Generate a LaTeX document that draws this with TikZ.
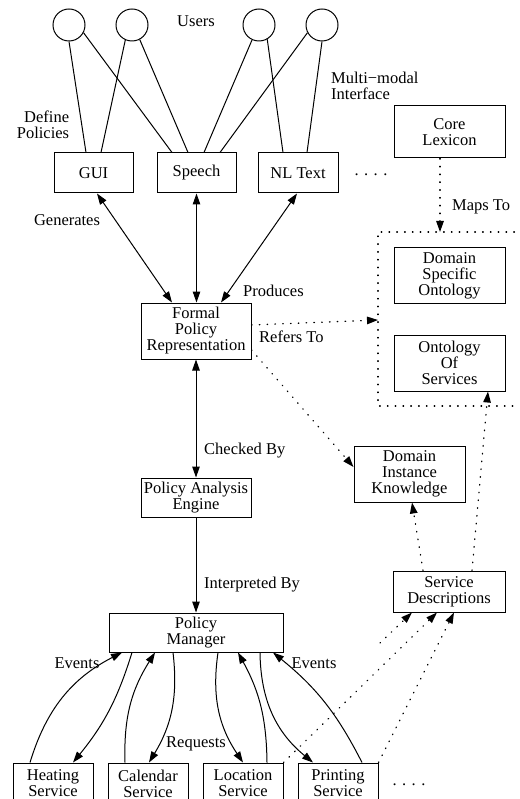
\documentclass[tikz,border=0pt]{standalone}
\usepackage{fontspec}
\setmainfont{Liberation Serif}
\usetikzlibrary{arrows.meta,calc}
\begin{document}
\begin{tikzpicture}[x=1pt,y=-1pt,
  >={Triangle[length=11pt,width=7.5pt]},
  every node/.style={font=\fontsize{16.5}{16}\selectfont},
  box/.style={draw,line width=1pt,align=center,inner sep=0pt},
  lbl/.style={inner sep=0pt},
  user/.style={draw,circle,line width=1pt,minimum size=32pt,inner sep=0pt},
  conn/.style={line width=1pt},
  dots/.style={line width=1.3pt,line cap=round,dash pattern=on 0.6pt off 7.2pt}]
\useasboundingbox (0,0) rectangle (519,799);
\clip (0,0) rectangle (519,799);
% users
\node[user] (u1) at (69,25) {};
\node[user] (u2) at (132,25) {};
\node[user] (u3) at (259,25) {};
\node[user] (u4) at (322,25) {};
\node[lbl,anchor=base] (lusers) at (196,26.5) {Users};
% interface boxes
\node[box,minimum width=79pt,minimum height=40pt] (gui) at (93.5,173) {GUI};
\node[box,minimum width=79pt,minimum height=40pt] (sp) at (196.5,173) {Speech};
\node[box,minimum width=80pt,minimum height=40pt] (nl) at (298,173) {NL Text};
\node[lbl] (dots1) at (371,175) {. . . .};
\node[box,minimum width=111pt,minimum height=52pt] (core) at (449.5,132) {Core\\Lexicon};
\node[box,minimum width=110pt,minimum height=56pt] (fp) at (196,331) {Formal\\Policy\\Representation};
\node[box,minimum width=111pt,minimum height=55pt] (dso) at (449.5,275.5) {Domain\\Specific\\Ontology};
\node[box,minimum width=111pt,minimum height=56pt] (oos) at (449.5,363) {Ontology\\Of\\Services};
\node[box,minimum width=111pt,minimum height=56pt] (dik) at (409.5,474) {Domain\\Instance\\Knowledge};
\node[box,minimum width=110pt,minimum height=39pt] (pae) at (196,497.5) {Policy Analysis\\Engine};
\node[box,minimum width=174pt,minimum height=39pt] (pm) at (196,632.5) {Policy\\Manager};
\node[box,minimum width=112pt,minimum height=41pt] (sd) at (449,591.5) {Service\\Descriptions};
\node[box,minimum width=80pt,minimum height=41pt] (heat) at (53,783.5) {Heating\\Service};
\node[box,minimum width=80pt,minimum height=41pt] (cal) at (148,783.5) {Calendar\\Service};
\node[box,minimum width=80pt,minimum height=41pt] (loc) at (243,783.5) {Location\\Service};
\node[box,minimum width=80pt,minimum height=41pt] (prn) at (338,783.5) {Printing\\Service};
\node[lbl] (dots2) at (409,785) {. . . .};
% labels
\node[lbl,align=right] (ldef) at (43,125) {Define\\Policies};
\node[lbl,align=left,anchor=west] (lmm) at (331,86) {Multi−modal\\Interface};
\node[lbl,anchor=base] (lgen) at (67,225.5) {Generates};
\node[lbl,anchor=base west] (lprod) at (243,296.5) {Produces};
\node[lbl,anchor=base west] (lmaps) at (452,210.5) {Maps To};
\node[lbl,anchor=base west] (lref) at (259,342.5) {Refers To};
\node[lbl,anchor=base west] (lchk) at (204,454.5) {Checked By};
\node[lbl,anchor=base west] (lint) at (204,588.5) {Interpreted By};
\node[lbl,anchor=base] (lev1) at (77,668.5) {Events};
\node[lbl,anchor=base] (lev2) at (314,668.5) {Events};
\node[lbl,anchor=base] (lreq) at (196,747.5) {Requests};
% user lines
\draw[conn] (u1.south) -- ($(gui.north)+(-7.5,0)$);
\draw[conn] (u1.-28) -- ($(sp.north)+(-24.5,0)$);
\draw[conn] (u2.-114) -- ($(gui.north)+(7.5,0)$);
\draw[conn] (u2.-62) -- ($(sp.north)+(-8.5,0)$);
\draw[conn] (u3.-115) -- ($(sp.north)+(7.5,0)$);
\draw[conn] (u3.-60) -- ($(nl.north)+(-15,0)$);
\draw[conn] (u4.-152) -- ($(sp.north)+(23.5,0)$);
\draw[conn] (u4.south) -- ($(nl.north)+(9,0)$);
% solid arrows
\draw[conn,<->] ($(gui.south)+(3.5,0)$) -- ($(fp.north)+(-24,0)$);
\draw[conn,<->] (sp.south) -- (sp.south |- fp.north);
\draw[conn,<->] ($(nl.south)+(-1,0)$) -- ($(fp.north)+(25,0)$);
\draw[conn,<->] (fp.south) -- (pae.north);
\draw[conn,->] (pae.south) -- (pm.north);
% dotted region
\coordinate (ra) at (530,232);
\coordinate (rb) at (378,232);
\coordinate (rc) at (378,406);
\coordinate (rd) at (530,406);
\draw[dots] (ra) -- (rb) -- (rc) -- (rd);
\coordinate (mt) at (440,232);
\coordinate (rt) at (378,320);
\coordinate (s0) at (380,643);
\draw[dots,->] ($(core.south)+(-9.5,0)$) -- (mt);
\draw[dots,->] ($(fp.east)+(0,-6)$) -- (rt);
\draw[dots,->] ($(fp.east)+(0,19)$) -- ($(dik.west)+(0,-7)$);
\draw[dots,->] ($(sd.north)+(-26,0)$) -- ($(dik.south)+(2.5,0)$);
\draw[dots,->] ($(sd.north)+(23,0)$) -- ($(oos.south)+(38.5,0)$);
\draw[dots,->] (loc.north east) -- ($(sd.south)+(-12,0)$);
\draw[dots,->] (prn.north east) -- ($(sd.south)+(5,0)$);
\draw[dots,->] (s0) -- ($(sd.south)+(-37,0)$);
% manager curves
\draw[conn,->] ($(heat.north)+(-23,0)$) to[bend left=23] ($(pm.south)+(-74,0)$);
\draw[conn,->] ($(pm.south)+(-64,0)$) to[bend left=11] ($(heat.north)+(20,0)$);
\draw[conn,->] ($(cal.north)+(-23,0)$) to[bend left=17] ($(pm.south)+(-41,0)$);
\draw[conn,->] ($(pm.south)+(-23,0)$) to[bend left=19] ($(cal.north)+(1,0)$);
\draw[conn,->] ($(pm.south)+(22,0)$) to[bend right=21] (loc.north);
\draw[conn,->] ($(loc.north)+(24,0)$) to[bend right=14] ($(pm.south)+(42,0)$);
\draw[conn,->] ($(pm.south)+(64,0)$) to[bend right=25] ($(prn.north)+(-25,0)$);
\draw[conn,->] ($(prn.north)+(24,0)$) to[bend right=12] ($(pm.south)+(77,0)$);
\end{tikzpicture}
\end{document}
